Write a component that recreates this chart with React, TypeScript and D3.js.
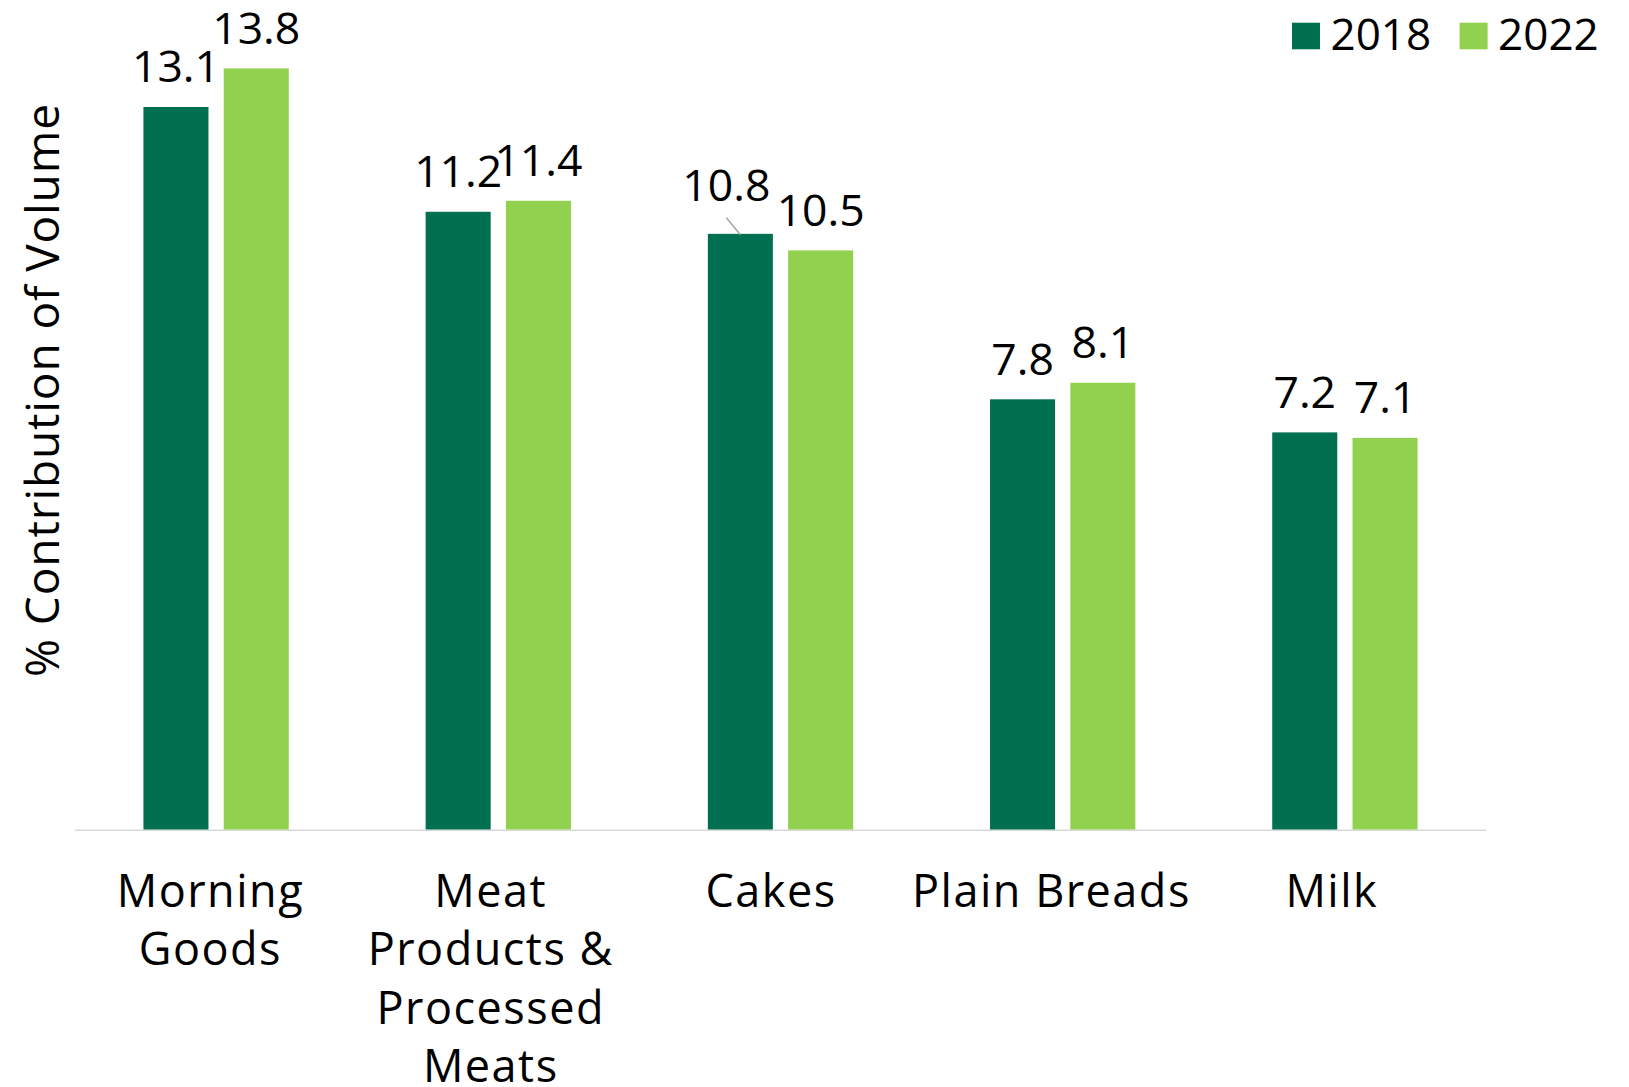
import React from "react";
import * as d3 from "d3";

const categories: string[][] = [
  ["Morning", "Goods"],
  ["Meat", "Products &", "Processed", "Meats"],
  ["Cakes"],
  ["Plain Breads"],
  ["Milk"],
];
const categoryKeys = ["Morning Goods", "Meat Products & Processed Meats", "Cakes", "Plain Breads", "Milk"];
const seriesNames = ["2018", "2022"];
const values2018 = [13.1, 11.2, 10.8, 7.8, 7.2];
const values2022 = [13.8, 11.4, 10.5, 8.1, 7.1];
const seriesColors = ["#007050", "#92D050"];
const yTitle = "% Contribution of Volume";

const W = 1629;
const H = 1087;
const FONT = "'Open Sans', 'Noto Sans', sans-serif";

export default function App() {
  const x0 = d3
    .scaleBand<string>()
    .domain(categoryKeys)
    .range([75, 1486])
    .paddingInner(0.485)
    .paddingOuter(0.2425);
  const x1 = d3
    .scaleBand<string>()
    .domain(seriesNames)
    .range([0, x0.bandwidth()])
    .paddingInner(0.19);
  const xLabel = d3.scalePoint<string>().domain(categoryKeys).range([210.4, 1331.8]);
  const y = d3.scaleLinear().domain([0, 15]).range([829.5, 2.2]);
  const series = [values2018, values2022];

  return (
    <svg
      width={W}
      height={H}
      style={{ position: "absolute", left: 0, top: 0, background: "#fff" }}
      fontFamily={FONT}
    >
      <rect x={0} y={0} width={W} height={H} fill="#fff" />
      {/* axis line */}
      <line x1={75} x2={1486} y1={830.2} y2={830.2} stroke="#d9d9d9" strokeWidth={1.6} />
      {/* bars */}
      {categoryKeys.map((c, ci) => (
        <g key={c} transform={`translate(${x0(c)},0)`}>
          {seriesNames.map((s, si) => {
            const v = series[si][ci];
            const bx = x1(s)!;
            const bw = x1.bandwidth();
            const top = y(v);
            const isCakes2018 = ci === 2 && si === 0;
            const lx = bx + bw / 2 + (isCakes2018 ? -14 : 0);
            const ly = top - 24.5 - (isCakes2018 ? 8 : 0);
            return (
              <g key={s}>
                <rect x={bx} y={top} width={bw} height={y(0) - top} fill={seriesColors[si]} />
                {isCakes2018 && (
                  <line
                    x1={bx + bw / 2}
                    y1={top + 1}
                    x2={bx + bw / 2 - 14}
                    y2={top - 16}
                    stroke="#a6a6a6"
                    strokeWidth={1.5}
                  />
                )}
                <text x={lx} y={ly} textAnchor="middle" fontSize={44.5} fill="#000">
                  {v.toFixed(1)}
                </text>
              </g>
            );
          })}
        </g>
      ))}
      {/* category labels */}
      {categoryKeys.map((c, ci) => (
        <text key={c} textAnchor="middle" fontSize={45} letterSpacing={1.5} fill="#000">
          {categories[ci].map((line, li) => (
            <tspan key={li} x={xLabel(c)!} y={907 + li * 58.3}>
              {line}
            </tspan>
          ))}
        </text>
      ))}
      {/* y title */}
      <text
        transform={`translate(59,390) rotate(-90)`}
        textAnchor="middle"
        fontSize={46}
        letterSpacing={0.9}
        fill="#000"
      >
        {yTitle}
      </text>
      {/* legend */}
      {seriesNames.map((s, si) => (
        <g key={s} transform={`translate(${1292 + si * 167.6},0)`}>
          <rect x={0} y={22.7} width={28} height={26.6} fill={seriesColors[si]} />
          <text x={38.5} y={50} fontSize={44} fill="#000">
            {s}
          </text>
        </g>
      ))}
    </svg>
  );
}
